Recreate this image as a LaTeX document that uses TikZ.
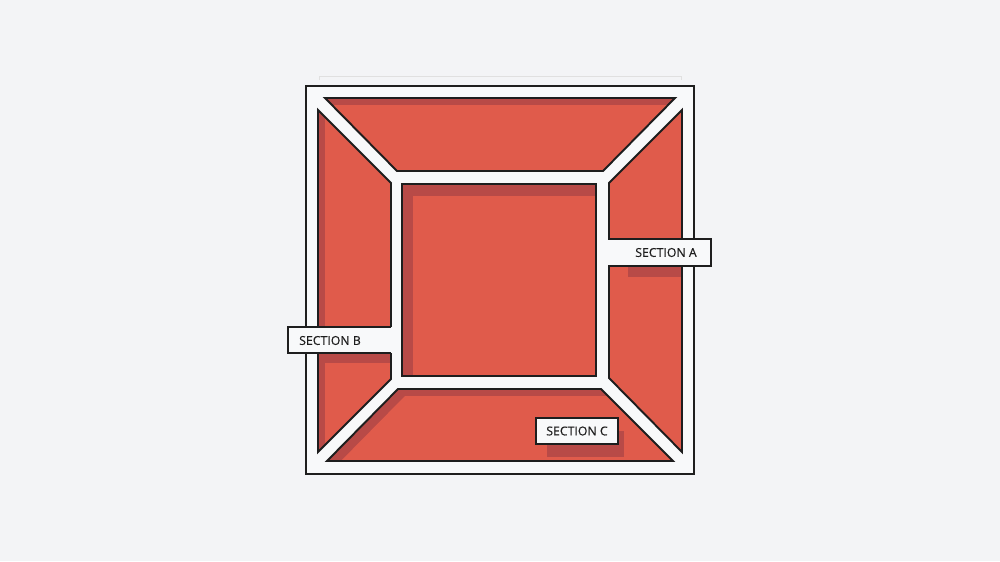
\documentclass[tikz,border=0pt]{standalone}
\usepackage{fontspec}
\setmainfont{Open Sans}
\newfontfamily\tagfont{Open Sans}[FakeBold=0.35]
\definecolor{bgcol}{HTML}{F3F4F6}
\definecolor{framecol}{HTML}{F8F9FA}
\definecolor{seatred}{HTML}{E05B4B}
\definecolor{seatdark}{HTML}{B84A47}
\definecolor{inkcol}{HTML}{1E1E1E}
\tikzset{
    frame/.style = {
        fill=framecol,
        draw=inkcol,
        line width=1.1pt
    },
    seat/.style = {
        draw=inkcol,
        line width=1.1pt,
        line join=miter
    },
    shade/.style = {
        fill=seatdark
    },
    seatfill/.style = {
        fill=seatred
    },
    tagbox/.style = {
        fill=framecol,
        draw=inkcol,
        line width=1.1pt
    },
    tag/.style = {
        font=\tagfont\fontsize{7}{8}\selectfont,
        text=inkcol,
        inner sep=0pt
    },
    guide/.style = {
        draw=black!12,
        line width=0.4pt
    }
}

\begin{document}
\begin{tikzpicture}[x=0.02cm, y=-0.02cm]
    \fill[bgcol] (0,0) rectangle (1000,561);
    \useasboundingbox (0,0) rectangle (1000,561);

    % Seating blocks
    \def\topseat{(325,98) -- (675,98) -- (603,171) -- (397,171) -- cycle}
    \def\leftseat{(318,110) -- (391,183) -- (391,379) -- (318,452) -- cycle}
    \def\rightseat{(682,110) -- (609,183) -- (609,378) -- (682,452) -- cycle}
    \def\bottomseat{(398,389) -- (601,389) -- (673,461) -- (327,461) -- cycle}
    \def\centerseat{(402,184) -- (596,184) -- (596,376) -- (402,376) -- cycle}

    \draw[guide] (319,80) -- (319,76) -- (681,76) -- (681,80);
    \draw[frame] (306,86) rectangle (694,474);

    \foreach \region/\dx/\dy in {\topseat/7/7, \leftseat/7/7, \rightseat/0/0,
                                 \bottomseat/7/7, \centerseat/11/12} {
        \begin{scope}
            \clip \region;
            \fill[shade] \region;
            \fill[seatfill, shift={(\dx,\dy)}] \region;
        \end{scope}
    }

    % Shadows of the labels
    \fill[shade] (628,266) rectangle (682,277);
    \fill[shade] (318,353) rectangle (391,363);
    \fill[shade] (547,431) rectangle (624,457);

    \foreach \region in {\topseat, \leftseat, \rightseat, \bottomseat, \centerseat}
        \draw[seat] \region;

    % Labels
    \fill[framecol] (604,239) rectangle (711,266);
    \draw[tagbox, fill=none] (608,239) -- (711,239) -- (711,266) -- (608,266);
    \node[tag] (secA) at (666,252.5) {SECTION A};

    \fill[framecol] (288,327) rectangle (394,353);
    \draw[tagbox, fill=none] (391,327) -- (288,327) -- (288,353) -- (391,353);
    \node[tag] (secB) at (330,340.5) {SECTION B};

    \draw[tagbox] (536,418) rectangle (618,444);
    \node[tag] (secC) at (577,431) {SECTION C};
\end{tikzpicture}
\end{document}
